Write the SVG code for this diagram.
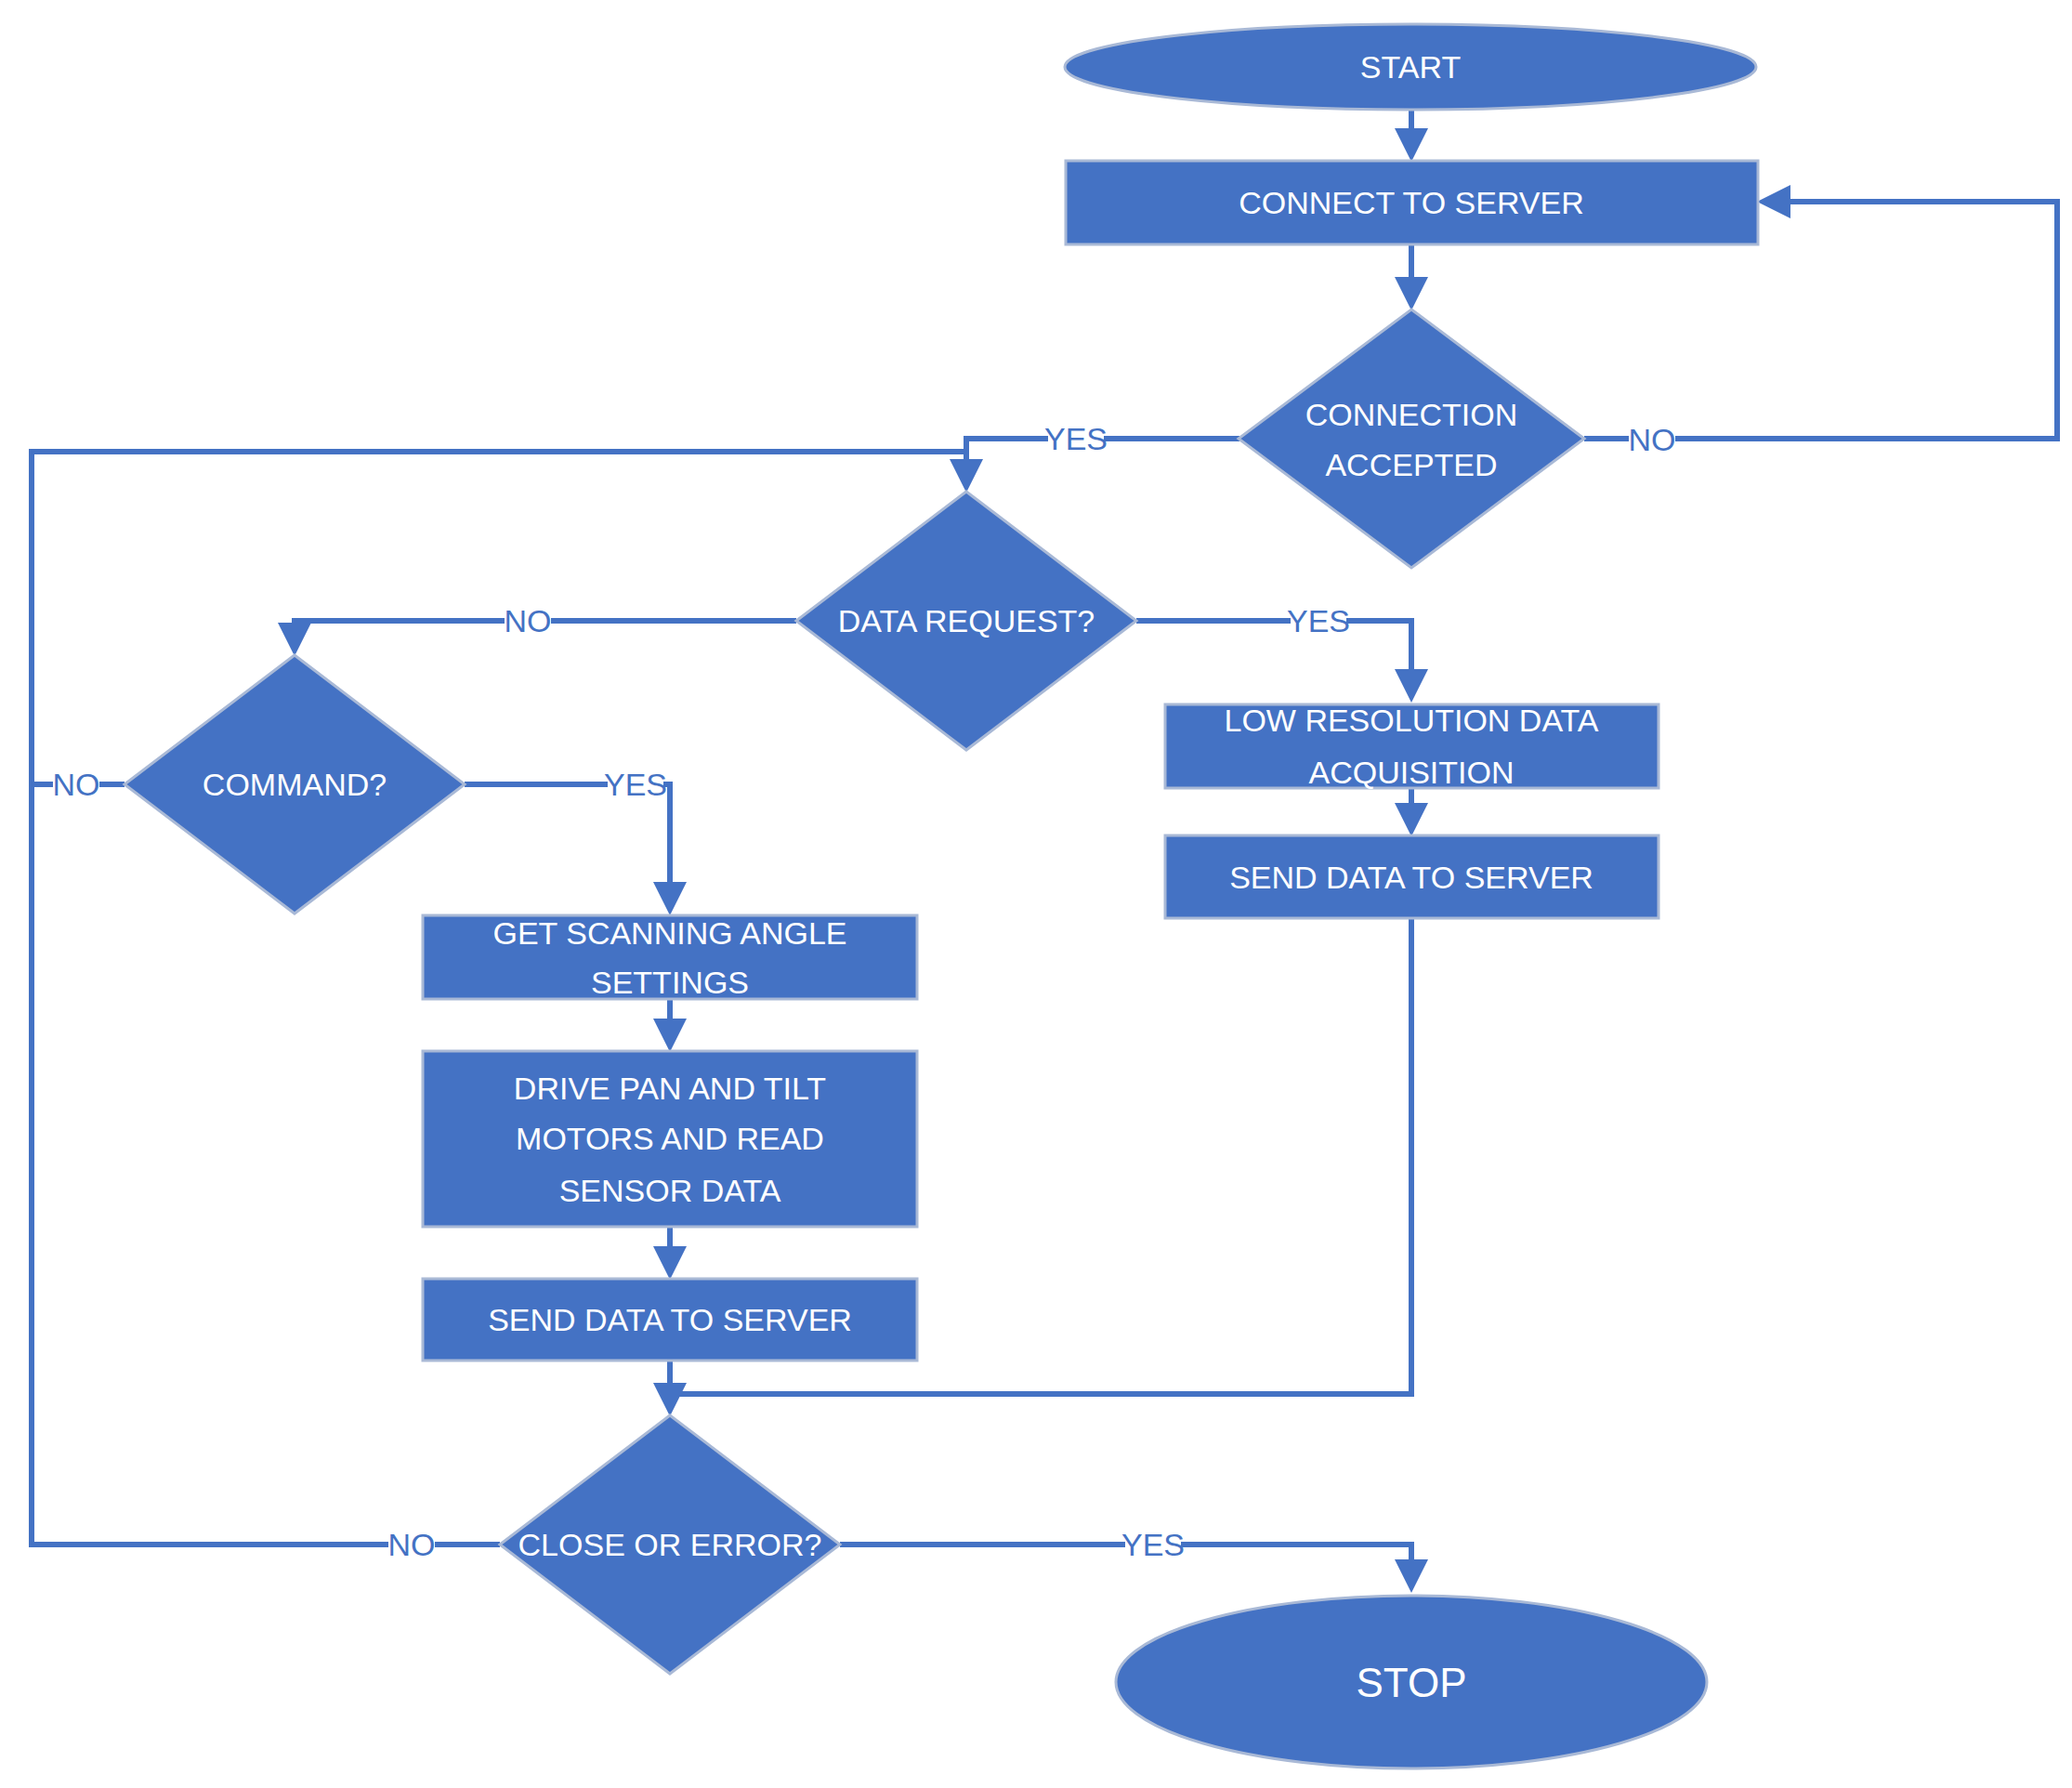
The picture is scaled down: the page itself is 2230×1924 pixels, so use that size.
<svg xmlns="http://www.w3.org/2000/svg" width="2230" height="1924" viewBox="0 0 2230 1924">
<style>
.n{fill:#4472C4;stroke:#A9B9D6;stroke-width:3}
.t{font-family:"Liberation Sans",Arial,sans-serif;font-size:34px;fill:#fff;text-anchor:middle;dominant-baseline:central}
.c{fill:none;stroke:#4472C4;stroke-width:6}
.l{font-family:"Liberation Sans",Arial,sans-serif;font-size:34px;fill:#4472C4;text-anchor:middle;dominant-baseline:central}
.lb{fill:#fff}
</style>
<defs><marker id="a" markerWidth="6" markerHeight="6" refX="5" refY="3" orient="auto" markerUnits="strokeWidth"><path d="M0,0L6,3L0,6z" fill="#4472C4"/></marker></defs>
<rect width="2230" height="1924" fill="#fff"/>
<g id="connectors">
<path class="c" d="M1519,118V168" marker-end="url(#a)"/>
<path class="c" d="M1519,263V328" marker-end="url(#a)"/>
<path class="c" d="M1705,472H2214V217H1897" marker-end="url(#a)"/>
<path class="c" d="M1334,472H1040V524" marker-end="url(#a)"/>
<path class="c" d="M857,668H317V700" marker-end="url(#a)"/>
<path class="c" d="M1223,668H1519V750" marker-end="url(#a)"/>
<path class="c" d="M1519,848V894" marker-end="url(#a)"/>
<path class="c" d="M500,844H721V979" marker-end="url(#a)"/>
<path class="c" d="M721,1075V1126" marker-end="url(#a)"/>
<path class="c" d="M721,1320V1371" marker-end="url(#a)"/>
<path class="c" d="M721,1464V1518" marker-end="url(#a)"/>
<path class="c" d="M1519,988V1500H721"/>
<path class="c" d="M134,844H34"/>
<path class="c" d="M538,1662H34V486H1040"/>
<path class="c" d="M904,1662H1519V1708" marker-end="url(#a)"/>
<g>
<rect class="lb" x="1128" y="452" width="60" height="40"/><text class="l" x="1158" y="472">YES</text>
<rect class="lb" x="1753" y="453" width="50" height="40"/><text class="l" x="1778" y="473">NO</text>
<rect class="lb" x="543" y="648" width="50" height="40"/><text class="l" x="568" y="668">NO</text>
<rect class="lb" x="1389" y="648" width="60" height="40"/><text class="l" x="1419" y="668">YES</text>
<rect class="lb" x="57" y="824" width="50" height="40"/><text class="l" x="82" y="844">NO</text>
<rect class="lb" x="654" y="824" width="60" height="40"/><text class="l" x="684" y="844">YES</text>
<rect class="lb" x="418" y="1642" width="50" height="40"/><text class="l" x="443" y="1662">NO</text>
<rect class="lb" x="1211" y="1642" width="60" height="40"/><text class="l" x="1241" y="1662">YES</text>
</g>
</g>
<g id="start"><ellipse class="n" cx="1518" cy="72" rx="372" ry="46"/><text class="t" x="1518" y="72">START</text></g>
<g id="connect"><rect class="n" x="1147" y="173" width="745" height="90"/><text class="t" x="1519" y="218">CONNECT TO SERVER</text></g>
<g id="accepted"><path class="n" d="M1519,333L1705,472L1519,611L1333,472z"/><text class="t" x="1519" y="446">CONNECTION</text><text class="t" x="1519" y="500">ACCEPTED</text></g>
<g id="datareq"><path class="n" d="M1040,529L1223,668L1040,807L857,668z"/><text class="t" x="1040" y="668">DATA REQUEST?</text></g>
<g id="command"><path class="n" d="M317,705L500,844L317,983L134,844z"/><text class="t" x="317" y="844">COMMAND?</text></g>
<g id="lowres"><rect class="n" x="1254" y="758" width="531" height="90"/><text class="t" x="1519" y="775">LOW RESOLUTION DATA</text><text class="t" x="1519" y="831">ACQUISITION</text></g>
<g id="send2"><rect class="n" x="1254" y="899" width="531" height="89"/><text class="t" x="1519" y="944">SEND DATA TO SERVER</text></g>
<g id="scan"><rect class="n" x="455" y="985" width="532" height="90"/><text class="t" x="721" y="1004">GET SCANNING ANGLE</text><text class="t" x="721" y="1057">SETTINGS</text></g>
<g id="drive"><rect class="n" x="455" y="1131" width="532" height="189"/><text class="t" x="721" y="1171">DRIVE PAN AND TILT</text><text class="t" x="721" y="1225">MOTORS AND READ</text><text class="t" x="721" y="1281">SENSOR DATA</text></g>
<g id="send1"><rect class="n" x="455" y="1376" width="532" height="88"/><text class="t" x="721" y="1420">SEND DATA TO SERVER</text></g>
<g id="close"><path class="n" d="M721,1523L904,1662L721,1801L538,1662z"/><text class="t" x="721" y="1662">CLOSE OR ERROR?</text></g>
<g id="stop"><ellipse class="n" cx="1519" cy="1810" rx="318" ry="93"/><text class="t" x="1519" y="1810" style="font-size:44px">STOP</text></g>
</svg>
